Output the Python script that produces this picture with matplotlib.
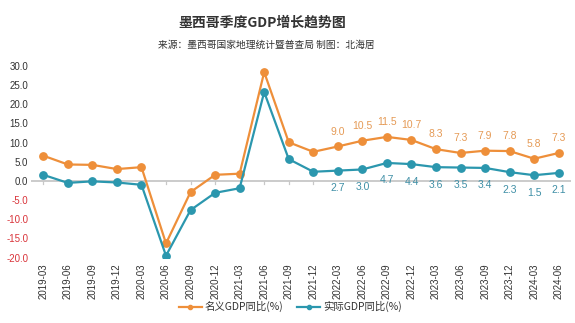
import matplotlib
matplotlib.use("Agg")
import matplotlib.pyplot as plt
from matplotlib.lines import Line2D

plt.rcParams['font.family'] = ['Noto Sans CJK SC', 'DejaVu Sans']

quarters = ["2019-03", "2019-06", "2019-09", "2019-12", "2020-03", "2020-06",
            "2020-09", "2020-12", "2021-03", "2021-06", "2021-09", "2021-12",
            "2022-03", "2022-06", "2022-09", "2022-12", "2023-03", "2023-06",
            "2023-09", "2023-12", "2024-03", "2024-06"]
nominal = [6.6, 4.3, 4.2, 3.1, 3.6, -16.3, -2.9, 1.6, 1.9, 28.4, 10.1, 7.6,
           9.0, 10.5, 11.5, 10.7, 8.3, 7.3, 7.9, 7.8, 5.8, 7.3]
real = [1.6, -0.5, -0.1, -0.4, -1.0, -19.5, -7.6, -3.1, -1.9, 23.2, 5.7, 2.4,
        2.7, 3.0, 4.7, 4.4, 3.6, 3.5, 3.4, 2.3, 1.5, 2.1]
label_from = 12  # values are printed from 2022-03 onwards
yticks = [-20, -15, -10, -5, 0, 5, 10, 15, 20, 25, 30]

orange = "#EE8F3A"
blue = "#2B97AE"
latin = ['Liberation Sans']

fig = plt.figure(figsize=(5.75, 3.23), dpi=100)
ax = fig.add_axes([31 / 575, 1 - 257.6 / 323, 540 / 575, (257.6 - 66) / 323])

x = list(range(len(quarters)))

# zero line acts as the category axis, labels sit below the plot
ax.axhline(0, color="#BDBDBD", lw=1.1, zorder=1)
for i in x[:label_from]:
    ax.plot([i, i], [0, -0.7], color="#C8C8C8", lw=0.9, zorder=1)

ax.plot(x, nominal, color=orange, lw=1.6, marker="o", ms=5.3, zorder=3)
ax.plot(x, real, color=blue, lw=1.6, marker="o", ms=5.3, zorder=3)

for i in x[label_from:]:
    ax.annotate(f"{nominal[i]:.1f}", (i, nominal[i]), xytext=(0, 7),
                textcoords="offset points", ha="center", va="bottom",
                fontsize=7.5, color="#E59A55", family=latin)
    ax.annotate(f"{real[i]:.1f}", (i, real[i]), xytext=(0, -9),
                textcoords="offset points", ha="center", va="top",
                fontsize=7.5, color="#3F8FA6", family=latin, zorder=4)

ax.set_xlim(-0.5, len(quarters) - 0.5)
ax.set_ylim(-20, 30)
ax.set_yticks(yticks)
ax.set_yticklabels([f"{v:.1f}" for v in yticks], fontsize=7, family=latin)
for lbl, v in zip(ax.get_yticklabels(), yticks):
    lbl.set_color("#D9343A" if v < 0 else "#333333")
ax.tick_params(axis="y", length=0, pad=2)

ax.set_xticks(x)
ax.set_xticklabels(quarters, rotation=90, fontsize=7, color="#333333",
                   family=latin)
ax.tick_params(axis="x", length=0, pad=4)
for s in ax.spines.values():
    s.set_visible(False)

fig.text(0.456, 0.929, "墨西哥季度GDP增长趋势图", ha="center", va="center",
         fontsize=10, fontweight="bold", color="#333333")
fig.text(0.464, 0.86, "来源：墨西哥国家地理统计暨普查局 制图：北海居",
         ha="center", va="center", fontsize=7, color="#333333",
         style="italic")

handles = [Line2D([], [], color=orange, lw=1.6, marker="o", ms=3),
           Line2D([], [], color=blue, lw=1.6, marker="o", ms=3)]
fig.legend(handles, ["名义GDP同比(%)", "实际GDP同比(%)"], loc="center",
           bbox_to_anchor=(0.505, 0.05), ncol=2, frameon=False, fontsize=7.5,
           handlelength=2.2, columnspacing=1.3, handletextpad=0.3,
           labelcolor="#333333")

fig.savefig("out.png", dpi=100, facecolor="white")
